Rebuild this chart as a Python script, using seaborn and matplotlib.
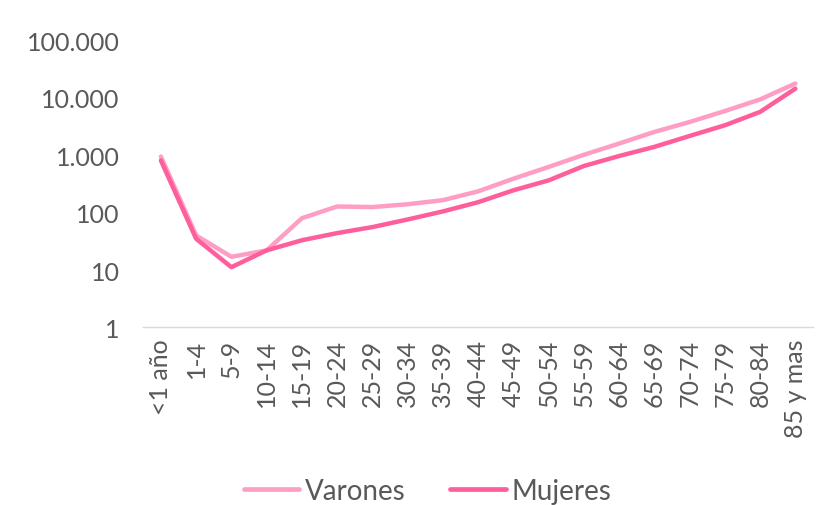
import pandas as pd
import matplotlib
matplotlib.use('Agg')
import matplotlib.pyplot as plt
import seaborn as sns
from matplotlib.ticker import FixedLocator, FuncFormatter, NullLocator

edades = ['<1 año', '1-4', '5-9', '10-14', '15-19', '20-24', '25-29', '30-34',
          '35-39', '40-44', '45-49', '50-54', '55-59', '60-64', '65-69',
          '70-74', '75-79', '80-84', '85 y mas']
varones = [950, 40, 17, 22, 80, 128, 125, 140, 165, 235, 390, 625, 1020,
           1600, 2550, 3800, 5900, 9400, 17800]
mujeres = [810, 35, 11.2, 22, 33, 44, 56, 76, 105, 152, 245, 365, 650,
           970, 1400, 2170, 3330, 5700, 14500]

df = pd.DataFrame({
    'edad': edades * 2,
    'valor': varones + mujeres,
    'sexo': ['Varones'] * len(edades) + ['Mujeres'] * len(edades),
})

sns.set_theme(style='white')
plt.rcParams['font.family'] = ['Lato', 'DejaVu Sans']
gris = '#595959'

fig = plt.figure(figsize=(8.33, 5.06), dpi=100)
ax = fig.add_axes([0.172, 0.351, 0.804, 0.567])

sns.lineplot(data=df, x='edad', y='valor', hue='sexo',
             palette={'Varones': '#FF9EC4', 'Mujeres': '#FF5E9C'},
             linewidth=3.2, ax=ax, legend=False, sort=False)

ax.set_yscale('log')
ax.set_ylim(1, 100000)
ax.set_xlim(-0.5, len(edades) - 0.5)
ax.yaxis.set_major_locator(FixedLocator([1, 10, 100, 1000, 10000, 100000]))
ax.yaxis.set_minor_locator(NullLocator())
ax.yaxis.set_major_formatter(FuncFormatter(lambda v, p: f'{int(v):,}'.replace(',', '.')))
ax.set_xticks(range(len(edades)))
ax.set_xticklabels(edades, rotation=90)
ax.tick_params(axis='both', labelsize=18, colors=gris, length=0)
ax.tick_params(axis='y', pad=17)
ax.tick_params(axis='x', pad=8)
ax.set_xlabel('')
ax.set_ylabel('')

for s in ['top', 'right', 'left']:
    ax.spines[s].set_visible(False)
ax.spines['bottom'].set_color('#D9D9D9')
ax.spines['bottom'].set_linewidth(1)

handles = [plt.Line2D([], [], color='#FF9EC4', lw=3.4, solid_capstyle='round'),
           plt.Line2D([], [], color='#FF5E9C', lw=3.4, solid_capstyle='round')]
leg = fig.legend(handles, ['Varones', 'Mujeres'], loc='center', bbox_to_anchor=(0.513, 0.028),
                 ncol=2, frameon=False, fontsize=20, handlelength=2.0,
                 handletextpad=0.2, columnspacing=1.6)
for t in leg.get_texts():
    t.set_color(gris)

fig.savefig('out.png', dpi=100)
